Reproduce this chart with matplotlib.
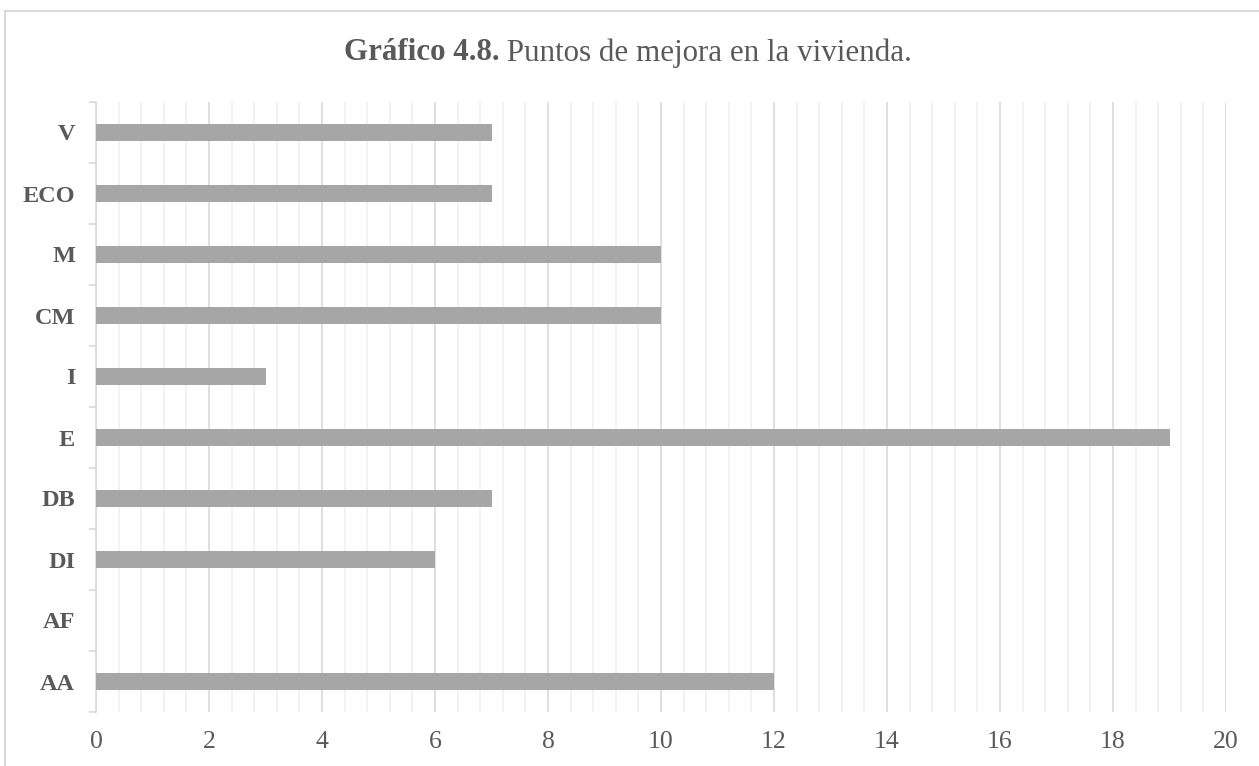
import matplotlib.pyplot as plt
from matplotlib.lines import Line2D
from matplotlib.ticker import MultipleLocator, FixedLocator, NullFormatter

categories = ['AA', 'AF', 'DI', 'DB', 'E', 'I', 'CM', 'M', 'ECO', 'V']
values = [12, 0, 6, 7, 19, 3, 10, 10, 7, 7]

text_col = '#595959'
plt.rcParams['font.family'] = ['Liberation Serif', 'DejaVu Serif']

fig = plt.figure(figsize=(12.59, 7.66), dpi=100)
ax = fig.add_axes([96 / 1259, 1 - 712 / 766, 1130 / 1259, 610 / 766])

pos = list(range(len(categories)))
ax.barh(pos, values, height=0.27, color='#a6a6a6', zorder=3)

ax.set_xlim(0, 20)
ax.set_ylim(-0.5, len(categories) - 0.5)

ax.xaxis.set_major_locator(MultipleLocator(2))
ax.xaxis.set_minor_locator(MultipleLocator(0.4))
ax.grid(axis='x', which='major', color='#d9d9d9', linewidth=1.2, zorder=0)
ax.grid(axis='x', which='minor', color='#f0f0f0', linewidth=1.2, zorder=0)
ax.tick_params(axis='x', which='both', length=0, labelsize=18.5, labelcolor=text_col, pad=14)

# y axis: boundary ticks (major) and centred labels (minor)
ax.yaxis.set_major_locator(FixedLocator([i - 0.5 for i in range(len(categories) + 1)]))
ax.yaxis.set_major_formatter(NullFormatter())
ax.yaxis.set_minor_locator(FixedLocator(pos))
ax.set_yticklabels(categories, minor=True, fontweight='bold')
ax.tick_params(axis='y', which='major', length=5, color='#d9d9d9', width=1.2)
ax.tick_params(axis='y', which='minor', length=0, labelsize=17.5, labelcolor=text_col, pad=15)

for s in ['top', 'right', 'bottom']:
    ax.spines[s].set_visible(False)
ax.spines['left'].set_color('#d9d9d9')
ax.spines['left'].set_linewidth(1.2)

# title: bold part + regular part, centred together
title_y = 1 - 53 / 766
t1 = fig.text(0, title_y, 'Gráfico 4.8.', fontsize=22.3, fontweight='bold',
              color=text_col, va='center', ha='left')
t2 = fig.text(0, title_y, ' Puntos de mejora en la vivienda.', fontsize=22.3,
              color=text_col, va='center', ha='left')
fig.canvas.draw()
r = fig.canvas.get_renderer()
w1 = t1.get_window_extent(r).width
w2 = t2.get_window_extent(r).width
x0 = 628 - (w1 + w2) / 2
t1.set_x(x0 / 1259)
t2.set_x((x0 + w1) / 1259)

# outer frame (cropped chart area border)
fig.add_artist(Line2D([5 / 1259, 1], [1 - 11 / 766, 1 - 11 / 766], color='#d9d9d9', lw=1.5))
fig.add_artist(Line2D([5 / 1259, 5 / 1259], [0, 1 - 11 / 766], color='#d9d9d9', lw=1.5))

fig.savefig('out.png', dpi=100)
